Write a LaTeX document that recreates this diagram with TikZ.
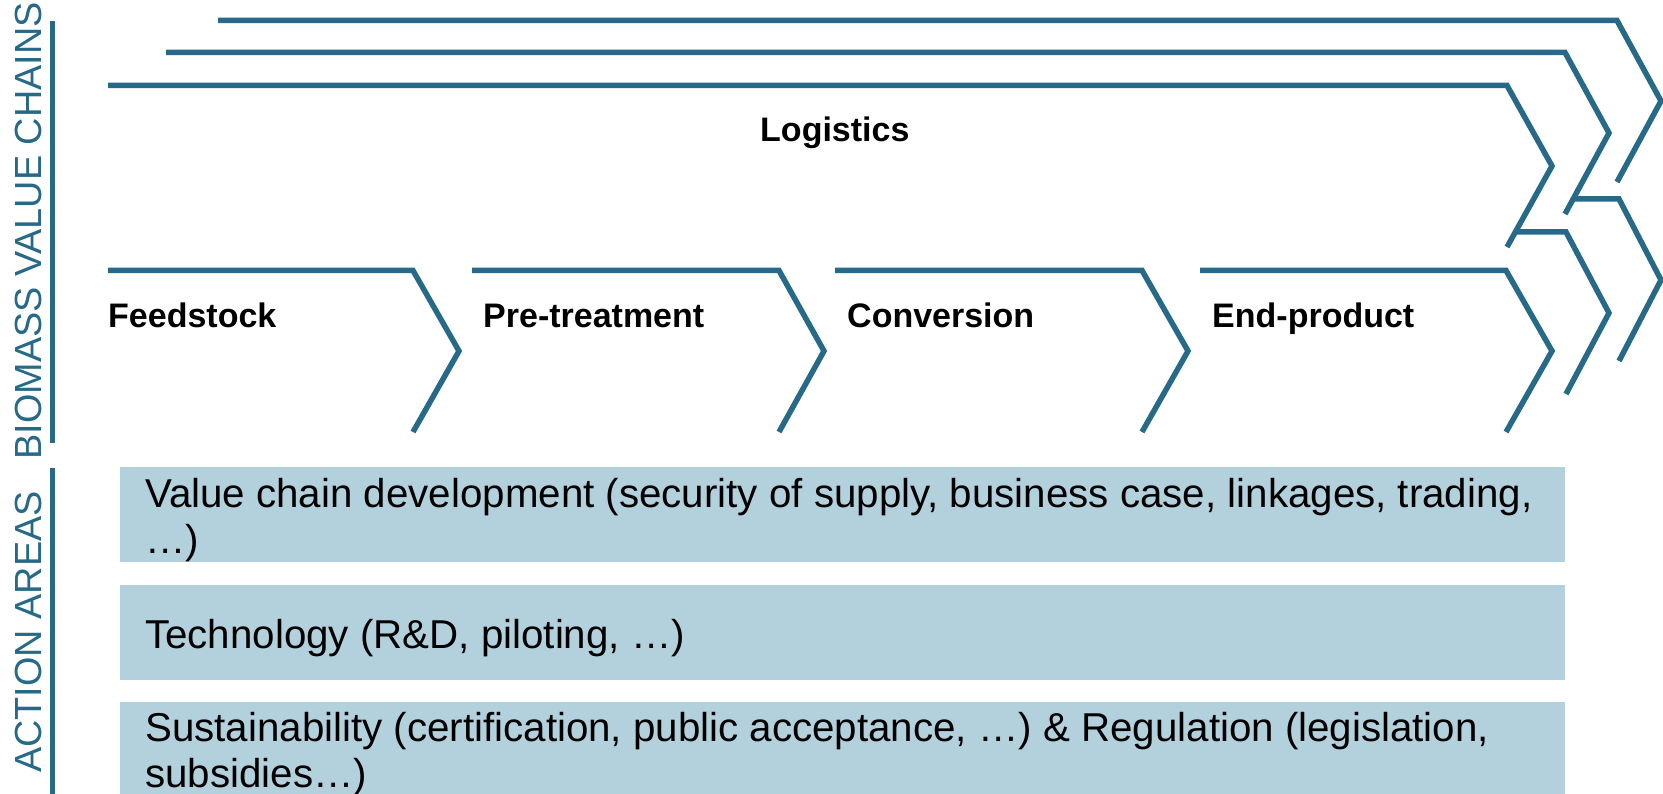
\documentclass[tikz,border=0pt]{standalone}
\usepackage{fontspec}
\setmainfont{Liberation Sans}
\definecolor{tealline}{RGB}{38,105,136}
\definecolor{boxfill}{RGB}{179,209,221}
\begin{document}
\begin{tikzpicture}[x=1pt,y=-1pt,
  chev/.style={draw=tealline,line width=5.5pt,line join=miter},
  steplabel/.style={font=\fontsize{34}{40}\selectfont\bfseries,anchor=base west,inner sep=0pt},
  actbox/.style={fill=boxfill,draw=none},
  acttext/.style={font=\fontsize{40.3}{46}\selectfont,anchor=base west,inner sep=0pt},
  sidelabel/.style={font=\fontsize{37.8}{44}\selectfont,text=tealline,rotate=90,anchor=base,inner sep=0pt},
  sidebar/.style={draw=tealline,line width=5pt}]
\useasboundingbox (0,0) rectangle (1663,794);

% side bars and labels
\draw[sidebar] (52,21) -- (52,443);
\draw[sidebar] (52,468) -- (52,794);
\node[sidelabel] (bvc) at (41.5,231) {BIOMASS VALUE CHAINS};
\node[sidelabel] (aa) at (41.5,632) {ACTION AREAS};

% logistics chevrons (stacked)
\draw[chev] (218,20.5) -- (1617,20.5) -- (1661,101) -- (1617,182);
\draw[chev] (166,52.5) -- (1565,52.5) -- (1609,133) -- (1565,214);
\draw[chev] (108,85.5) -- (1507,85.5) -- (1552,166) -- (1507,247);
\node[steplabel] (logistics) at (760,142) {Logistics};

% value chain steps
\draw[chev] (108,270.5) -- (413,270.5) -- (459,351) -- (413,432);
\draw[chev] (472,270.5) -- (779,270.5) -- (824,351) -- (779,432);
\draw[chev] (835,270.5) -- (1142,270.5) -- (1188,351) -- (1142,432);
\draw[chev] (1200,270.5) -- (1506,270.5) -- (1552,351) -- (1506,432);
% stacked copies behind end-product
\draw[chev] (1515,232) -- (1566,232) -- (1609,313) -- (1566,394);
\draw[chev] (1574,199) -- (1619,199) -- (1661,280) -- (1619,361);

\node[steplabel] (feed) at (108,328) {Feedstock};
\node[steplabel] (pre) at (483,327) {Pre-treatment};
\node[steplabel] (conv) at (847,327) {Conversion};
\node[steplabel] (endp) at (1212,327) {End-product};

% action areas
\fill[actbox] (120,467) rectangle (1565,562);
\fill[actbox] (120,585) rectangle (1565,680);
\fill[actbox] (120,702) rectangle (1565,794);

\node[acttext] (vc1) at (145,507) {Value chain development (security of supply, business case, linkages, trading,};
\node[acttext] (vc2) at (145,553) {…)};
\node[acttext] (tech) at (145,648) {Technology (R\&D, piloting, …)};
\node[acttext] (sus1) at (145,741) {Sustainability (certification, public acceptance, …) \& Regulation (legislation,};
\node[acttext] (sus2) at (145,787) {subsidies…)};
\end{tikzpicture}
\end{document}
